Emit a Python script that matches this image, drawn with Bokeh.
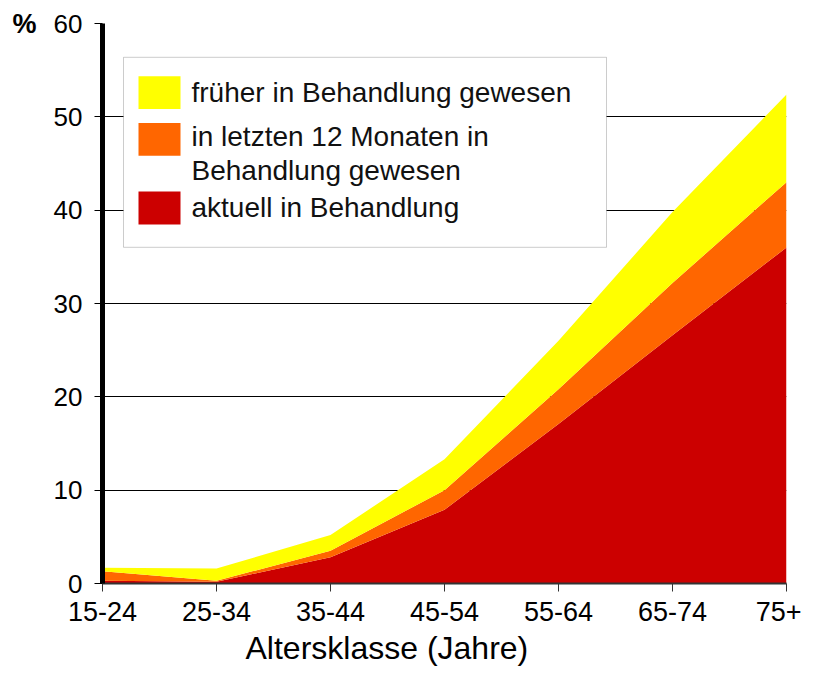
from bokeh.plotting import figure
from bokeh.models import ColumnDataSource, Range1d, FixedTicker, Label, BoxAnnotation, Title
from bokeh.embed import file_html
from bokeh.resources import INLINE

# ---- data ----
categories = ["15-24", "25-34", "35-44", "45-54", "55-64", "65-74", "75+"]
aktuell = [0.3, 0.2, 2.8, 7.9, 17.1, 26.6, 36.0]          # aktuell in Behandlung
letzte12 = [1.0, 0.1, 0.7, 2.1, 3.7, 5.6, 7.0]            # in letzten 12 Monaten
frueher = [0.4, 1.3, 1.7, 3.3, 5.2, 7.6, 9.4]             # früher in Behandlung
y_ticks = [0, 10, 20, 30, 40, 50, 60]

labels = ["früher in Behandlung gewesen",
          "in letzten 12 Monaten in\nBehandlung gewesen",
          "aktuell in Behandlung"]
x_title = "Altersklasse (Jahre)"
colors = {"aktuell": "#CC0000", "letzte12": "#FF6600", "frueher": "#FFFF00"}

FONT = "Liberation Sans"

# frame placement (canvas pixels)
FL, FR, FT, FB = 102.0, 786.0, 23.0, 586.0
W, H = 801, 669

source = ColumnDataSource(dict(x=list(range(len(categories))),
                               aktuell=aktuell, letzte12=letzte12, frueher=frueher))

p = figure(width=W, height=H, output_backend="svg", toolbar_location=None,
           x_range=Range1d(0, len(categories) - 1), y_range=Range1d(0, 60),
           min_border_left=int(FL), min_border_right=int(W - FR),
           min_border_top=int(FT), min_border_bottom=int(H - FB))
p.outline_line_color = None
p.background_fill_color = "white"
p.border_fill_color = "white"

p.varea_stack(stackers=["aktuell", "letzte12", "frueher"], x="x",
              color=[colors["aktuell"], colors["letzte12"], colors["frueher"]],
              source=source)

# axes
p.xaxis.ticker = FixedTicker(ticks=list(range(len(categories))))
p.xaxis.major_label_overrides = {i: c for i, c in enumerate(categories)}
p.xaxis.major_label_text_font = FONT
p.xaxis.major_label_text_font_size = "27px"
p.xaxis.major_label_text_color = "black"
p.xaxis.major_label_standoff = 10
p.xaxis.axis_line_color = "#333333"
p.xaxis.axis_line_width = 2
p.xaxis.major_tick_out = 8
p.xaxis.major_tick_in = 0
p.xaxis.major_tick_line_color = "#333333"
p.xaxis.minor_tick_line_color = None

# x-axis title, shifted left of frame centre like the original
p.add_layout(Title(text=x_title, align="left", offset=143, text_font=FONT,
                   text_font_size="32px", text_font_style="normal",
                   text_color="black", standoff=8), "below")

p.yaxis.ticker = FixedTicker(ticks=y_ticks)
p.yaxis.major_label_text_font = FONT
p.yaxis.major_label_text_font_size = "26px"
p.yaxis.major_label_text_color = "black"
p.yaxis.major_label_standoff = 12
p.yaxis.axis_line_color = "black"
p.yaxis.axis_line_width = 5
p.yaxis.major_tick_out = 8
p.yaxis.major_tick_in = 0
p.yaxis.major_tick_line_color = "black"
p.yaxis.minor_tick_line_color = None

# "%" as horizontal y-axis label at the top end
yax = p.yaxis[0]
yax.axis_label = "%"
yax.axis_label_text_font = FONT
yax.axis_label_text_font_size = "27px"
yax.axis_label_text_font_style = "bold"
yax.axis_label_text_color = "black"
yax.axis_label_standoff = 14
try:
    yax.axis_label_orientation = "horizontal"
    yax.axis_label_align = "end"
except Exception:
    pass

p.xgrid.grid_line_color = None
p.ygrid.ticker = FixedTicker(ticks=y_ticks)
p.ygrid.grid_line_color = "black"
p.ygrid.grid_line_width = 1

def px2x(px):
    return (px - FL) / (FR - FL) * (len(categories) - 1)
def px2y(py):
    return (FB - py) / (FB - FT) * 60.0

# manual legend
p.add_layout(BoxAnnotation(left=px2x(123), right=px2x(606), top=px2y(57), bottom=px2y(248),
                           fill_color="white", fill_alpha=1.0, line_color="#555555",
                           line_width=1, level="overlay"))
sw = [(colors["frueher"], 76, 109), (colors["letzte12"], 123, 156), (colors["aktuell"], 192, 225)]
for c, t, b in sw:
    p.add_layout(BoxAnnotation(left=px2x(138), right=px2x(180), top=px2y(t), bottom=px2y(b),
                               fill_color=c, fill_alpha=1.0, line_color=None, level="overlay"))
text_rows = [(labels[0], 92), (labels[1].split("\n")[0], 137),
             (labels[1].split("\n")[1], 171), (labels[2], 208)]
for txt, yc in text_rows:
    p.add_layout(Label(x=px2x(191), y=px2y(yc), text=txt, text_baseline="middle",
                       text_font=FONT, text_font_size="28px", text_color="#111111",
                       level="overlay"))

open("out.html", "w").write(file_html(p, INLINE))
